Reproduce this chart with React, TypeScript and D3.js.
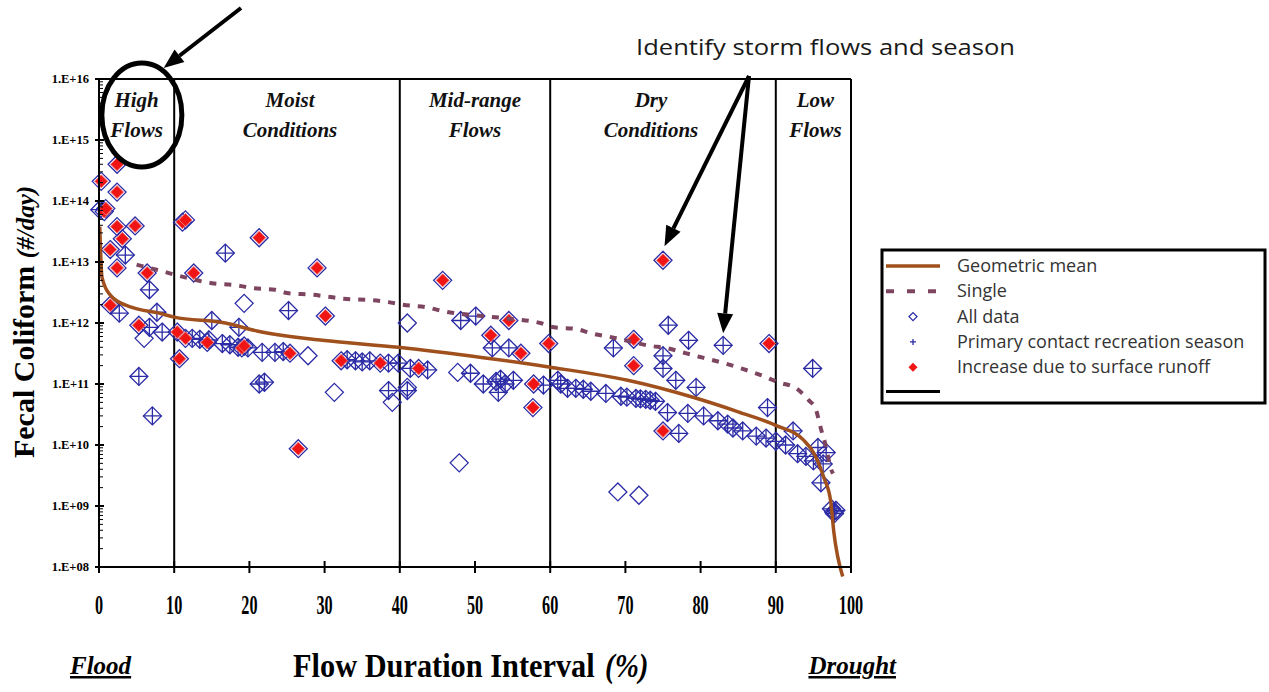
import React, { useRef, useEffect } from 'react';
import * as d3 from 'd3';

const xTicks = [0, 10, 20, 30, 40, 50, 60, 70, 80, 90, 100];
const yTicks = [1e8, 1e9, 1e10, 1e11, 1e12, 1e13, 1e14, 1e15, 1e16];
const yTickLabels = ['1.E+08', '1.E+09', '1.E+10', '1.E+11', '1.E+12', '1.E+13', '1.E+14', '1.E+15', '1.E+16'];

const zoneBounds = [0, 10, 40, 60, 90, 100];
const zoneLabels = [['High', 'Flows'], ['Moist', 'Conditions'], ['Mid-range', 'Flows'], ['Dry', 'Conditions'], ['Low', 'Flows']];

const legendLabels = ['Geometric mean', 'Single', 'All data', 'Primary contact recreation season', 'Increase due to surface runoff'];

// load duration curves (flow interval %, #/day)
const geoX = [0.1, 0.4, 1.7, 4.4, 8.0, 10, 16.8, 21, 29.7, 39.8, 51.1, 59.8, 70.3, 79.1, 85, 90, 93.7, 95.1, 96.4, 97.3, 97.7, 98.9];
const geoY = [3.8e13, 5.6e12, 2.7e12, 1.8e12, 1.45e12, 1.25e12, 1.0e12, 7.4e11, 5.2e11, 4.0e11, 2.7e11, 1.9e11, 1.15e11, 6.0e10, 3.5e10, 2.1e10, 1.2e10, 7.2e9, 2.9e9, 1.2e9, 3.9e8, 7e7];

const singleX = [5.0, 7.8, 10.5, 15, 18, 20.7, 23.4, 25, 28.5, 30.4, 33.4, 35.4, 38.5, 40.3, 43.7, 45.4, 53.8, 58.7, 60.5, 63.4, 65.4, 68.3, 73.4, 75.4, 78, 80.3, 83.1, 85.4, 88, 90.3, 92.7, 94.4, 95.3, 96, 96.7, 97.3, 97.6];
const singleY = [9e12, 7.4e12, 6e12, 4.5e12, 4.2e12, 3.7e12, 3.5e12, 3.1e12, 2.9e12, 2.7e12, 2.45e12, 2.4e12, 2.2e12, 2.0e12, 1.8e12, 1.6e12, 1.2e12, 1.0e12, 8.5e11, 8e11, 6.8e11, 5.8e11, 4.2e11, 3.9e11, 3.2e11, 2.7e11, 2.2e11, 1.8e11, 1.4e11, 1.07e11, 8.5e10, 5.4e10, 3.9e10, 1.85e10, 9.1e9, 4.2e9, 3.4e9];

// samples: [flow interval %, fecal coliform #/day]
const otherSamples = [
  [6.0, 5.6e11], [19.3, 2.1e12], [27.8, 2.9e11], [31.3, 7.3e10], [39.0, 5.0e10], [41.0, 1.0e12],
  [41.0, 8.8e10], [47.7, 1.55e11], [47.9, 5.1e9], [69.0, 1.7e9], [71.8, 1.5e9],
];

const seasonSamples = [
  [0.1, 7.2e13], [3.5, 1.3e13], [6.7, 3.5e12], [2.7, 1.45e12], [7.7, 1.5e12], [6.7, 8.5e11], [8.4, 7.1e11],
  [5.3, 1.33e11], [7.1, 3.0e10],
  [12.4, 5.6e11], [13.4, 5.4e11], [14.6, 5.3e11], [16.8, 1.4e13], [15.0, 1.1e12], [18.6, 8.5e11], [16.4, 4.6e11],
  [17.4, 4.4e11], [18.5, 4.0e11], [19.8, 3.9e11], [21.3, 1.0e11], [25.2, 1.6e12], [21.7, 3.3e11], [23.4, 3.3e11],
  [24.5, 3.4e11], [22.0, 1.07e11], [33.0, 2.5e11], [34.1, 2.4e11], [35.0, 2.3e11], [36.0, 2.4e11], [38.5, 2.2e11],
  [39.8, 2.2e11], [38.5, 7.8e10], [41.0, 7.8e10],
  [48.1, 1.1e12], [50.1, 1.3e12], [52.3, 3.9e11], [54.5, 3.9e11], [41.4, 1.8e11], [43.7, 1.7e11], [49.4, 1.5e11],
  [51.1, 1.0e11], [52.8, 1.1e11], [53.4, 1.2e11], [54.0, 1.0e11], [55.1, 1.15e11], [53.1, 7.3e10], [59.1, 9.6e10],
  [61.0, 1.15e11], [62.3, 8.5e10],
  [68.4, 3.9e11], [75.7, 9.2e11], [78.4, 5.2e11], [75.0, 2.9e11], [75.0, 1.8e11], [76.7, 1.15e11], [79.4, 8.8e10],
  [83.0, 4.3e11],
  [61.4, 1.0e11], [63.4, 8.5e10], [64.4, 8.2e10], [65.4, 7.6e10], [67.4, 7.0e10], [69.4, 6.3e10], [70.2, 6.1e10],
  [71.4, 5.8e10], [72.0, 5.7e10], [72.7, 5.6e10], [73.3, 5.4e10], [74.0, 5.2e10],
  [75.6, 3.4e10], [78.3, 3.3e10], [80.4, 3.0e10], [82.3, 2.5e10], [83.6, 2.2e10], [77.1, 1.55e10], [84.3, 1.9e10],
  [85.6, 1.7e10], [87.4, 1.4e10], [88.7, 1.3e10], [90.0, 1.15e10], [91.3, 1.0e10], [88.9, 4.1e10], [92.3, 1.7e10],
  [92.9, 7.2e9], [94.0, 6.5e9], [95.0, 5.5e9], [95.6, 9.1e9], [96.7, 7.5e9], [96.3, 4.9e9], [96.0, 2.4e9],
  [94.9, 1.8e11], [97.4, 9e8], [97.7, 8e8], [98.0, 8.5e8], [97.8, 7.5e8],
];

const runoffSamples = [
  [2.4, 4.0e14], [0.3, 2.1e14], [2.4, 1.4e14], [0.7, 6.7e13], [0.9, 7.5e13], [2.4, 3.8e13], [4.8, 3.9e13],
  [3.1, 2.4e13], [1.5, 1.6e13], [2.4, 8.0e12], [6.4, 6.6e12], [1.5, 1.96e12], [5.3, 9.2e11],
  [11.1, 4.5e13], [11.5, 4.9e13], [10.4, 7.1e11], [11.5, 5.6e11], [14.4, 4.8e11], [10.7, 2.6e11], [12.6, 6.6e12],
  [21.3, 2.5e13], [19.0, 3.9e11], [19.3, 4.2e11], [29.0, 8.0e12], [30.1, 1.3e12], [25.4, 3.2e11], [26.5, 8.7e9],
  [32.2, 2.4e11], [37.4, 2.2e11],
  [45.7, 5.0e12], [54.5, 1.1e12], [52.1, 6.3e11], [56.1, 3.2e11], [59.8, 4.6e11], [42.5, 1.8e11], [57.8, 1.0e11],
  [57.7, 4.1e10],
  [75.0, 1.07e13], [71.1, 5.4e11], [71.1, 2.0e11], [75.0, 1.7e10], [89.1, 4.6e11],
];

const BLUE = '#2b2ba6';
const RED = '#f01414';
const BROWN = '#a0501c';
const PLUM = '#7d4560';
const SERIF = '"Liberation Serif", "Times New Roman", serif';
const SANS = '"Open Sans", "Noto Sans", sans-serif';

const diamond = (cx, cy, r) => `M${cx},${cy - r}L${cx + r},${cy}L${cx},${cy + r}L${cx - r},${cy}Z`;

const LoadDurationChart = () => {
  const ref = useRef(null);

  useEffect(() => {
    document.body.style.margin = '0';
    const svg = d3.select(ref.current);
    svg.selectAll('*').remove();

    const left = 99, right = 851, top = 79, bottom = 567;
    const x = d3.scaleLinear().domain([0, 100]).range([left, right]);
    const y = d3.scaleLog().domain([1e8, 1e16]).range([bottom, top]);

    const curve = d3.line().x(d => x(d[0])).y(d => y(d[1])).curve(d3.curveMonotoneX);
    const frame = svg.append('g');

    // frame + zone dividers
    frame.append('line').attr('x1', left).attr('x2', right).attr('y1', top).attr('y2', top);
    frame.append('line').attr('x1', right).attr('x2', right).attr('y1', top).attr('y2', bottom);
    frame.selectAll('line.zone').data(zoneBounds.slice(1, -1)).enter().append('line')
      .attr('class', 'zone')
      .attr('x1', d => x(d)).attr('x2', d => x(d)).attr('y1', top).attr('y2', bottom);
    frame.selectAll('line').attr('stroke', '#000').attr('stroke-width', 2);

    // zone labels (the Dry label sits a bit left of its band centre)
    const labelShift = [0, 3, 0, -12, 2];
    zoneLabels.forEach((lines, i) => {
      const cx = x((zoneBounds[i] + zoneBounds[i + 1]) / 2) + labelShift[i];
      lines.forEach((t, j) => {
        svg.append('text')
          .attr('x', cx).attr('y', 107 + j * 30)
          .attr('text-anchor', 'middle')
          .attr('font-family', SERIF).attr('font-size', 21)
          .attr('font-style', 'italic').attr('font-weight', 'bold')
          .attr('fill', '#111')
          .text(t);
      });
    });

    const marks = svg.append('g');
    const all = [...otherSamples, ...seasonSamples, ...runoffSamples];

    marks.selectAll('path.all').data(all).enter().append('path')
      .attr('d', d => diamond(x(d[0]), y(d[1]), 9))
      .attr('fill', 'none').attr('stroke', BLUE).attr('stroke-width', 1.3);

    marks.selectAll('path.plus').data(seasonSamples).enter().append('path')
      .attr('d', d => {
        const cx = x(d[0]), cy = y(d[1]);
        return `M${cx - 9},${cy}H${cx + 9}M${cx},${cy - 9}V${cy + 9}`;
      })
      .attr('fill', 'none').attr('stroke', BLUE).attr('stroke-width', 1.3);

    svg.append('path')
      .attr('d', curve(singleX.map((v, i) => [v, singleY[i]])))
      .attr('fill', 'none').attr('stroke', PLUM).attr('stroke-width', 4)
      .attr('stroke-dasharray', '7,8');

    svg.append('path')
      .attr('d', curve(geoX.map((v, i) => [v, geoY[i]])))
      .attr('fill', 'none').attr('stroke', BROWN).attr('stroke-width', 3.5);

    marks.append('g').selectAll('path').data(runoffSamples).enter().append('path')
      .attr('d', d => diamond(x(d[0]), y(d[1]), 6.5))
      .attr('fill', RED).attr('stroke', '#f07878').attr('stroke-width', 1);

    // y axis
    const yAxis = svg.append('g');
    yAxis.append('line').attr('x1', left).attr('x2', left).attr('y1', top).attr('y2', bottom)
      .attr('stroke', '#000').attr('stroke-width', 2);
    const minors = [];
    yTicks.slice(0, -1).forEach(t => { for (let k = 2; k <= 9; k++) minors.push(t * k); });
    yAxis.selectAll('line.minor').data(minors).enter().append('line')
      .attr('x1', left).attr('x2', left + 4).attr('y1', d => y(d)).attr('y2', d => y(d))
      .attr('stroke', '#000').attr('stroke-width', 1);
    yAxis.selectAll('line.major').data(yTicks).enter().append('line')
      .attr('x1', left - 4).attr('x2', left + 5).attr('y1', d => y(d)).attr('y2', d => y(d))
      .attr('stroke', '#000').attr('stroke-width', 2);
    yAxis.selectAll('text').data(yTicks).enter().append('text')
      .attr('x', left - 10).attr('y', d => y(d) + 4)
      .attr('text-anchor', 'end')
      .attr('font-family', SERIF).attr('font-size', 12.5).attr('font-weight', 'bold')
      .text((d, i) => yTickLabels[i]);

    // x axis
    const xAxis = svg.append('g');
    xAxis.append('line').attr('x1', left).attr('x2', right).attr('y1', bottom).attr('y2', bottom)
      .attr('stroke', '#000').attr('stroke-width', 2);
    xAxis.selectAll('line.tick').data(xTicks).enter().append('line')
      .attr('x1', d => x(d)).attr('x2', d => x(d)).attr('y1', bottom - 6).attr('y2', bottom + 6)
      .attr('stroke', '#000').attr('stroke-width', 2);
    xAxis.selectAll('text').data(xTicks).enter().append('text')
      .attr('transform', d => `translate(${x(d)},${bottom + 47}) scale(0.6,1)`)
      .attr('text-anchor', 'middle')
      .attr('font-family', SERIF).attr('font-size', 27).attr('font-weight', 'bold')
      .text(d => d);

    // axis titles (condensed like the original)
    svg.append('text')
      .attr('transform', 'translate(293,677) scale(0.92,1)')
      .attr('font-family', SERIF).attr('font-size', 33).attr('font-weight', 'bold')
      .text('Flow Duration Interval');
    svg.append('text')
      .attr('transform', 'translate(605,677) scale(0.88,1)')
      .attr('font-family', SERIF).attr('font-size', 33).attr('font-weight', 'bold').attr('font-style', 'italic')
      .text('(%)');

    [['Flood', 70, 'start'], ['Drought', 896, 'end']].forEach(([t, px, anchor]) => {
      svg.append('text')
        .attr('x', px).attr('y', 674).attr('text-anchor', anchor)
        .attr('font-family', SERIF).attr('font-size', 25)
        .attr('font-style', 'italic').attr('font-weight', 'bold')
        .attr('text-decoration', 'underline')
        .text(t);
    });

    const yt = svg.append('text')
      .attr('transform', `translate(34,322) rotate(-90)`)
      .attr('text-anchor', 'middle')
      .attr('font-family', SERIF).attr('font-size', 30).attr('font-weight', 'bold');
    yt.append('tspan').text('Fecal Coliform ');
    yt.append('tspan').attr('font-style', 'italic').attr('font-size', 25).text('(#/day)');

    // annotations
    const ann = svg.append('g');
    const arrow = (x1, y1, x2, y2) => {
      const a = Math.atan2(y2 - y1, x2 - x1);
      const len = 20, half = 8;
      const bx = x2 - len * Math.cos(a), by = y2 - len * Math.sin(a);
      ann.append('line').attr('x1', x1).attr('y1', y1).attr('x2', bx).attr('y2', by)
        .attr('stroke', '#000').attr('stroke-width', 4);
      ann.append('path')
        .attr('d', `M${x2},${y2}L${bx + half * Math.sin(a)},${by - half * Math.cos(a)}L${bx - half * Math.sin(a)},${by + half * Math.cos(a)}Z`)
        .attr('fill', '#000');
    };
    ann.append('ellipse')
      .attr('cx', x(5.7)).attr('cy', 115).attr('rx', 40).attr('ry', 52)
      .attr('fill', 'none').attr('stroke', '#000').attr('stroke-width', 5);
    arrow(241, 8, x(8.6), 68);
    arrow(749, 76, x(75.2), y(1.07e13) - 14);
    arrow(749, 76, x(83), y(4.3e11) - 12);

    ann.append('text')
      .attr('x', 636).attr('y', 55)
      .attr('textLength', 379).attr('lengthAdjust', 'spacingAndGlyphs')
      .attr('font-family', SANS).attr('font-size', 22).attr('fill', '#1a1a1a')
      .text('Identify storm flows and season');

    // legend
    const lg = svg.append('g').attr('transform', 'translate(882,250)');
    lg.append('rect').attr('width', 383).attr('height', 153)
      .attr('fill', '#fff').attr('stroke', '#000').attr('stroke-width', 3);
    const rowY = i => 16 + i * 25.3;
    lg.append('line').attr('x1', 4).attr('x2', 58).attr('y1', rowY(0)).attr('y2', rowY(0))
      .attr('stroke', BROWN).attr('stroke-width', 3.5);
    lg.append('line').attr('x1', 4).attr('x2', 58).attr('y1', rowY(1)).attr('y2', rowY(1))
      .attr('stroke', PLUM).attr('stroke-width', 4).attr('stroke-dasharray', '8,13');
    lg.append('path').attr('d', diamond(31, rowY(2), 4)).attr('fill', 'none').attr('stroke', BLUE).attr('stroke-width', 1.3);
    lg.append('path').attr('d', `M28,${rowY(3)}H34M31,${rowY(3) - 3}V${rowY(3) + 3}`).attr('stroke', BLUE).attr('stroke-width', 1.3);
    lg.append('path').attr('d', diamond(31, rowY(4), 4.5)).attr('fill', RED);
    lg.append('line').attr('x1', 4).attr('x2', 58).attr('y1', rowY(5) - 1).attr('y2', rowY(5) - 1)
      .attr('stroke', '#000').attr('stroke-width', 3);
    lg.selectAll('text').data(legendLabels).enter().append('text')
      .attr('x', 75).attr('y', (d, i) => rowY(i) + 6)
      .attr('font-family', SANS).attr('font-size', 18).attr('fill', '#333')
      .text(d => d);
  }, []);

  return <svg ref={ref} width={1269} height={692} style={{ display: 'block', background: '#fff' }}></svg>;
};

export default function App() {
  return <LoadDurationChart />;
}
